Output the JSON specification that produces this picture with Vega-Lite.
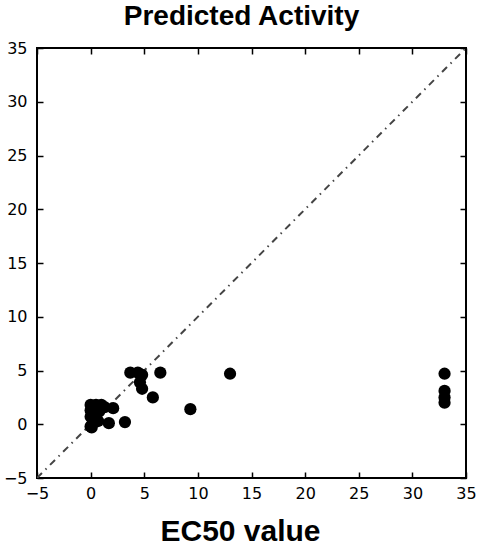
{
  "$schema": "https://vega.github.io/schema/vega-lite/v6.json",
  "width": 429,
  "height": 430,
  "autosize": {"type": "none"},
  "padding": {"left": 37, "top": 48, "right": 11, "bottom": 67},
  "background": "white",
  "title": {"text": "Predicted Activity", "font": "Liberation Sans", "fontSize": 28, "fontWeight": "bold", "color": "black", "anchor": "middle", "dx": -10, "offset": -13, "baseline": "alphabetic"},
  "config": {
    "view": {"stroke": "black", "strokeWidth": 2},
    "axis": {"grid": false, "domain": false, "tickColor": "black", "tickWidth": 1.5, "tickSize": -6, "labelFont": "DejaVu Sans", "labelFontSize": 16, "labelColor": "black", "labelPadding": 10, "labelFlush": false}
  },
  "datasets": {
    "pts": [
      {"ec50": 33.0, "pred": 4.7},
      {"ec50": 33.0, "pred": 3.1},
      {"ec50": 33.0, "pred": 2.5},
      {"ec50": 33.0, "pred": 2.0},
      {"ec50": 13.0, "pred": 4.7},
      {"ec50": 9.3, "pred": 1.4},
      {"ec50": 6.5, "pred": 4.8},
      {"ec50": 5.8, "pred": 2.5},
      {"ec50": 3.7, "pred": 4.8},
      {"ec50": 4.4, "pred": 4.8},
      {"ec50": 4.8, "pred": 4.6},
      {"ec50": 4.6, "pred": 3.9},
      {"ec50": 4.8, "pred": 3.3},
      {"ec50": 3.2, "pred": 0.2},
      {"ec50": 2.1, "pred": 1.5},
      {"ec50": 1.7, "pred": 0.1},
      {"ec50": 0.0, "pred": 1.8},
      {"ec50": 0.5, "pred": 1.8},
      {"ec50": 1.0, "pred": 1.8},
      {"ec50": 1.3, "pred": 1.6},
      {"ec50": 0.0, "pred": 1.3},
      {"ec50": 0.3, "pred": 1.0},
      {"ec50": 0.8, "pred": 1.2},
      {"ec50": 0.0, "pred": 0.7},
      {"ec50": 0.4, "pred": 0.5},
      {"ec50": 0.2, "pred": 0.1},
      {"ec50": 0.0, "pred": -0.2},
      {"ec50": 0.1, "pred": -0.3},
      {"ec50": 0.7, "pred": 0.3}
    ],
    "diag": [
      {"ec50": -5, "pred": -5},
      {"ec50": 35, "pred": 35}
    ]
  },
  "layer": [
    {
      "data": {"name": "diag"},
      "mark": {"type": "line", "color": "#444444", "strokeWidth": 2, "strokeDash": [7, 5, 1.5, 5], "clip": true},
      "encoding": {
        "x": {"field": "ec50", "type": "quantitative", "scale": {"domain": [-5, 35], "nice": false, "zero": false}, "axis": {"orient": "top", "labels": false, "title": null, "values": [-5, 0, 5, 10, 15, 20, 25, 30, 35]}},
        "y": {"field": "pred", "type": "quantitative", "scale": {"domain": [-5, 35], "nice": false, "zero": false}, "axis": {"orient": "right", "labels": false, "title": null, "values": [-5, 0, 5, 10, 15, 20, 25, 30, 35]}}
      }
    },
    {
      "data": {"name": "pts"},
      "mark": {"type": "circle", "color": "black", "opacity": 1, "size": 150},
      "encoding": {
        "x": {"field": "ec50", "type": "quantitative", "axis": {"orient": "bottom", "labelPadding": 13, "title": "EC50 value", "titleFont": "Liberation Sans", "titleFontSize": 30, "titleFontWeight": "bold", "titleColor": "black", "titleX": 203, "titleY": 62, "titleBaseline": "alphabetic", "values": [-5, 0, 5, 10, 15, 20, 25, 30, 35]}},
        "y": {"field": "pred", "type": "quantitative", "axis": {"orient": "left", "labelPadding": 16, "title": null, "values": [-5, 0, 5, 10, 15, 20, 25, 30, 35]}}
      }
    }
  ],
  "resolve": {"axis": {"x": "independent", "y": "independent"}}
}
